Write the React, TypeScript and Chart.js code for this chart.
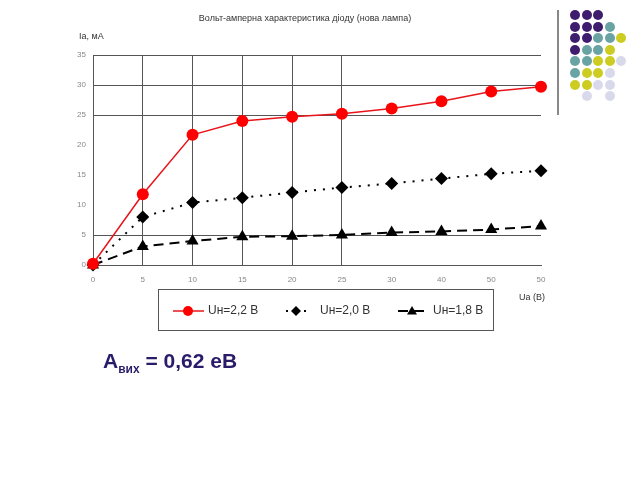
import React, { useEffect, useRef } from "react";
import { Chart, registerables } from "chart.js";

Chart.register(...registerables);

const categories = ["0", "5", "10", "15", "20", "25", "30", "40", "50", "50"];
const seriesUn22 = [0.2, 11.8, 21.7, 24.0, 24.7, 25.2, 26.1, 27.3, 28.9, 29.7];
const seriesUn20 = [0, 8.0, 10.4, 11.2, 12.1, 12.9, 13.6, 14.4, 15.2, 15.7];
const seriesUn18 = [0, 3.1, 4.0, 4.7, 4.8, 5.0, 5.4, 5.6, 5.9, 6.5];
const seriesLabels = ["Uн=2,2 В", "Uн=2,0 В", "Uн=1,8 В"];
const yTicks = [0, 5, 10, 15, 20, 25, 30, 35];
const hiddenYGrid = [10, 15, 20];

const chartTitle = "Вольт-амперна характеристика діоду (нова лампа)";
const yTitle = "Iа, мА";
const xTitle = "Ua (В)";

// decorative dot pattern (slide template)
const dotRows: string[][] = [
  ["P", "P", "P", "", ""],
  ["P", "P", "P", "T", ""],
  ["P", "P", "T", "T", "Y"],
  ["P", "T", "T", "Y", ""],
  ["T", "T", "Y", "Y", "L"],
  ["T", "Y", "Y", "L", ""],
  ["Y", "Y", "L", "L", ""],
  ["", "L", "", "L", ""],
];
const dotColors: Record<string, string> = {
  P: "#3f1d6e",
  T: "#69a3a3",
  Y: "#cccc22",
  L: "#d9d9ec",
};

function drawMarker(ctx: CanvasRenderingContext2D, style: string, x: number, y: number, r: number, color: string) {
  ctx.save();
  ctx.fillStyle = color;
  ctx.setLineDash([]);
  ctx.beginPath();
  if (style === "circle") {
    ctx.arc(x, y, r, 0, Math.PI * 2);
  } else if (style === "rectRot") {
    ctx.moveTo(x, y - r);
    ctx.lineTo(x + r, y);
    ctx.lineTo(x, y + r);
    ctx.lineTo(x - r, y);
    ctx.closePath();
  } else {
    ctx.moveTo(x, y - r);
    ctx.lineTo(x + r, y + r * 0.7);
    ctx.lineTo(x - r, y + r * 0.7);
    ctx.closePath();
  }
  ctx.fill();
  ctx.restore();
}

const overlayPlugin = {
  id: "overlay",
  afterDraw(chart: any) {
    const ctx: CanvasRenderingContext2D = chart.ctx;
    const area = chart.chartArea;
    ctx.save();
    ctx.fillStyle = "#333";
    ctx.font = "9px 'Liberation Sans', Arial, sans-serif";
    ctx.textBaseline = "middle";
    ctx.textAlign = "center";
    ctx.fillText(chartTitle, 305, 19);
    ctx.textAlign = "left";
    ctx.fillText(yTitle, area.left - 14, 37);
    ctx.fillText(xTitle, 519, 298);

    // legend box
    ctx.strokeStyle = "#555";
    ctx.lineWidth = 1;
    ctx.strokeRect(158.5, 289.5, 335, 41);

    const items = [
      { x1: 173, x2: 204, mx: 188, tx: 208 },
      { x1: 286, x2: 306, mx: 296, tx: 320 },
      { x1: 398, x2: 426, mx: 412, tx: 433 },
    ];
    const ly = 311;
    chart.data.datasets.forEach((ds: any, i: number) => {
      const it = items[i];
      ctx.save();
      ctx.strokeStyle = ds.borderColor;
      ctx.lineWidth = ds.borderWidth;
      ctx.setLineDash(i === 1 ? [2, 7] : i === 2 ? [10, 6] : []);
      ctx.beginPath();
      ctx.moveTo(it.x1, ly);
      ctx.lineTo(it.x2, ly);
      ctx.stroke();
      ctx.restore();
      drawMarker(ctx, ds.pointStyle, it.mx, ly, 5, ds.pointBackgroundColor);
      ctx.fillStyle = "#333";
      ctx.font = "12px 'Liberation Sans', Arial, sans-serif";
      ctx.textAlign = "left";
      ctx.textBaseline = "middle";
      ctx.fillText(ds.label, it.tx, ly);
    });
    ctx.restore();
  },
};

export default function App() {
  const canvasRef = useRef<HTMLCanvasElement | null>(null);

  useEffect(() => {
    if (!canvasRef.current) return;
    const chart = new Chart(canvasRef.current, {
      type: "line",
      data: {
        labels: categories,
        datasets: [
          {
            label: seriesLabels[0],
            data: seriesUn22,
            borderColor: "#e8141a",
            backgroundColor: "#ff0000",
            borderWidth: 1.5,
            pointStyle: "circle",
            pointRadius: 6,
            pointBackgroundColor: "#ff0000",
            pointBorderColor: "#ff0000",
            pointBorderWidth: 0,
            clip: false,
          },
          {
            label: seriesLabels[1],
            data: seriesUn20,
            borderColor: "#000",
            backgroundColor: "#000",
            borderWidth: 2,
            borderDash: [2, 7],
            pointStyle: "rectRot",
            pointRadius: 6.5,
            pointBackgroundColor: "#000",
            pointBorderColor: "#000",
            pointBorderWidth: 0,
            clip: false,
          },
          {
            label: seriesLabels[2],
            data: seriesUn18,
            borderColor: "#000",
            backgroundColor: "#000",
            borderWidth: 2,
            borderDash: [10, 6],
            pointStyle: "triangle",
            pointRadius: 7,
            pointBackgroundColor: "#000",
            pointBorderColor: "#000",
            pointBorderWidth: 0,
            clip: false,
          },
        ] as any,
      },
      options: {
        responsive: false,
        animation: false,
        layout: { padding: { left: 0, right: 99, top: 55, bottom: 185 } },
        plugins: {
          legend: { display: false },
          title: { display: false },
          tooltip: { enabled: false },
        },
        scales: {
          x: {
            type: "category",
            offset: false,
            afterFit: (s: any) => {
              s.height = 30;
            },
            grid: {
              drawTicks: false,
              color: (c: any) => (c.index >= 1 && c.index <= 5 ? "#555" : "rgba(0,0,0,0)"),
              lineWidth: 1,
            },
            border: { display: true, color: "#555", width: 1 },
            ticks: {
              padding: 10,
              color: "#888",
              font: { size: 8, family: "'Liberation Sans', Arial, sans-serif" },
              maxRotation: 0,
              autoSkip: false,
            },
          },
          y: {
            min: 0,
            max: 35,
            afterFit: (s: any) => {
              s.width = 93;
            },
            afterBuildTicks: (s: any) => {
              s.ticks = yTicks.map((v) => ({ value: v }));
            },
            grid: {
              drawTicks: false,
              color: (c: any) => (c.tick && hiddenYGrid.includes(c.tick.value) ? "rgba(0,0,0,0)" : "#555"),
              lineWidth: 1,
            },
            border: { display: true, color: "#555", width: 1 },
            ticks: {
              padding: 7,
              color: "#888",
              font: { size: 8, family: "'Liberation Sans', Arial, sans-serif" },
            },
          },
        },
      } as any,
      plugins: [overlayPlugin],
    });
    return () => chart.destroy();
  }, []);

  return (
    <div style={{ position: "fixed", left: 0, top: 0, width: 640, height: 480, background: "#fff" }}>
      <canvas ref={canvasRef} width={640} height={480} style={{ position: "absolute", left: 0, top: 0 }} />
      <div style={{ position: "absolute", left: 557, top: 10, width: 1.5, height: 105, background: "#888" }} />
      {dotRows.map((row, j) =>
        row.map((c, i) =>
          c ? (
            <div
              key={`${j}-${i}`}
              style={{
                position: "absolute",
                left: 570 + i * 11.6,
                top: 10 + j * 11.6,
                width: 10,
                height: 10,
                borderRadius: "50%",
                background: dotColors[c],
              }}
            />
          ) : null
        )
      )}
      <div
        style={{
          position: "absolute",
          left: 103,
          top: 349,
          fontFamily: "'Liberation Sans', Arial, sans-serif",
          fontWeight: "bold",
          fontSize: 21,
          lineHeight: "24px",
          color: "#2b1c6b",
          whiteSpace: "nowrap",
        }}
      >
        A<sub style={{ fontSize: 12, verticalAlign: "-5px" }}>вих</sub> = 0,62 eВ
      </div>
    </div>
  );
}
